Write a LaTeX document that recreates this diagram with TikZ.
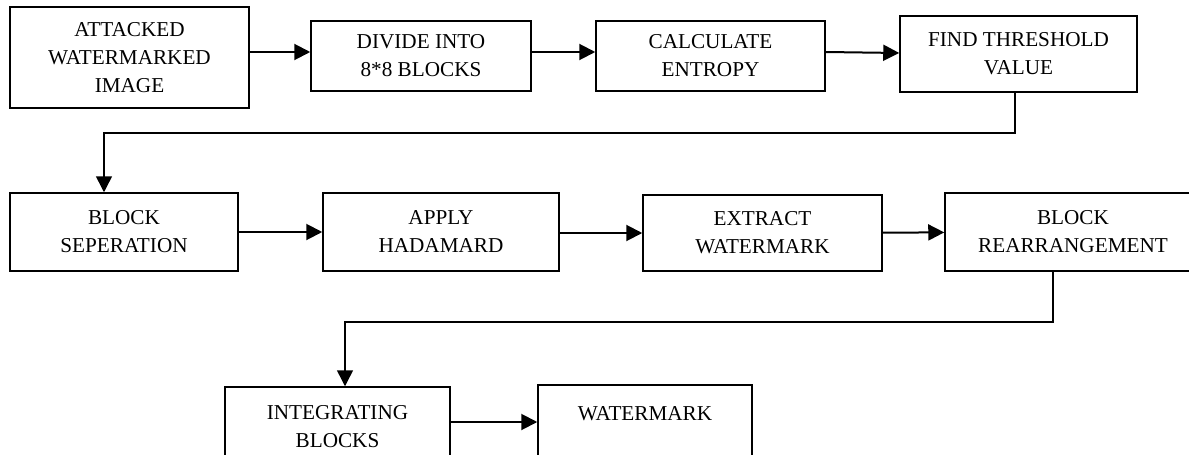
\documentclass[tikz,border=0pt]{standalone}
\usepackage{fontspec}
\setmainfont{Liberation Serif}
\usetikzlibrary{arrows.meta}
\begin{document}
\begin{tikzpicture}[x=0.5pt,y=-0.5pt,
  box/.style={draw=black,line width=0.75pt,inner sep=0pt,align=center,
    font=\fontsize{10.6pt}{14pt}\selectfont},
  arr/.style={line width=1pt,-{Triangle[length=8pt,width=8pt]}},
  elbow/.style={line width=0.75pt,-{Triangle[length=8pt,width=8pt]}}]
\useasboundingbox (0,0) rectangle (1189,455);
\clip (0,0) rectangle (1189,455);
% row 1
\node[box,minimum width=119.5pt,minimum height=50.5pt] (b1) at (129.5,57.5) {ATTACKED\\WATERMARKED\\IMAGE};
\node[box,minimum width=110pt,minimum height=35pt] (b2) at (421,56) {DIVIDE INTO\\8*8 BLOCKS};
\node[box,minimum width=114.5pt,minimum height=35pt] (b3) at (710.5,56) {CALCULATE\\ENTROPY};
\node[box,minimum width=118.5pt,minimum height=38pt] (b4) at (1018.5,54) {FIND THRESHOLD\\VALUE};
% row 2
\node[box,minimum width=114pt,minimum height=39pt] (b5) at (124,232) {BLOCK\\SEPERATION};
\node[box,minimum width=118pt,minimum height=39pt] (b6) at (441,232) {APPLY\\HADAMARD};
\node[box,minimum width=119.5pt,minimum height=38pt] (b7) at (762.5,233) {EXTRACT\\WATERMARK};
\node[box,minimum width=128pt,minimum height=39pt] (b8) at (1073,232) {BLOCK\\REARRANGEMENT};
% row 3
\node[box,minimum width=112.5pt,minimum height=40pt] (b9) at (337.5,427) {INTEGRATING\\BLOCKS};
\node[box,minimum width=107pt,minimum height=42pt] (b10) at (645,427) {WATERMARK\\~};
% horizontal arrows
\coordinate (y1) at (0,52);
\coordinate (y1b) at (0,53);
\coordinate (y3) at (0,422);
\draw[arr] (b1.east |- y1) -- (b2.west |- y1);
\draw[arr] (b2.east |- y1) -- (b3.west |- y1);
\draw[arr] (b3.east |- y1) -- (b4.west |- y1b);
\draw[arr] (b5) -- (b6);
\draw[arr] (b6.east |- b7.west) -- (b7.west);
\draw[arr] (b7) -- (b8);
\draw[arr] (b9.east |- y3) -- (b10.west |- y3);
% elbow connectors
\coordinate (c1) at (1015,133);
\coordinate (c2) at (104,133);
\draw[elbow] (b4.south -| c1) -- (c1) -- (c2) -- (b5.north -| c2);
\coordinate (c3) at (1053,322);
\coordinate (c4) at (345,322);
\draw[elbow] (b8.south -| c3) -- (c3) -- (c4) -- (b9.north -| c4);
\end{tikzpicture}
\end{document}
